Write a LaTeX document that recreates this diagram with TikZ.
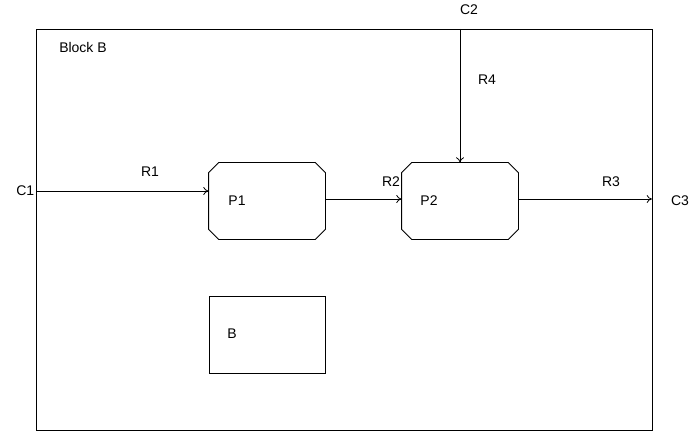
\documentclass[tikz,border=0pt]{standalone}
\usepackage{fontspec}
\setmainfont{Liberation Sans}
\usepackage{tikz}
\usetikzlibrary{arrows.meta,positioning,calc}

% chamfered outline round a named node
\newcommand{\octout}[1]{%
  \draw ($(#1.north west)+(10,0)$) -- ($(#1.north east)+(-10,0)$)
    -- ($(#1.north east)+(0,10)$) -- ($(#1.south east)+(0,-10)$)
    -- ($(#1.south east)+(-10,0)$) -- ($(#1.south west)+(10,0)$)
    -- ($(#1.south west)+(0,-10)$) -- ($(#1.north west)+(0,10)$) -- cycle;}

\begin{document}
\begin{tikzpicture}[
  x=0.75pt, y=-0.75pt,
  font=\fontsize{10.5}{12}\selectfont,
  line width=0.6pt,
  proc/.style={minimum width=87pt, minimum height=57pt, inner sep=0pt},
  box/.style={draw, minimum width=87pt, minimum height=57.75pt, inner sep=0pt},
  lbl/.style={inner sep=1pt},
  arr/.style={-{To[length=4pt,width=6pt]}}
]
\useasboundingbox (0,0) rectangle (692,431);

% outer block
\node[draw, minimum width=462pt, minimum height=300.75pt, inner sep=0pt] (blk) at (344,229.5) {};
\node[lbl] (blkname) at (83,47) {Block B};

% processes
\node[proc] (P1) at (267,201) {};
\octout{P1}
\node[lbl] (p1name) at (237,201) {P1};
\node[proc] (P2) at (460,201) {};
\octout{P2}
\node[lbl] (p2name) at (429,201) {P2};
\node[box] (B) at (267,334.5) {};
\node[lbl] (bname) at (232,334) {B};

% ports
\coordinate (c1) at (36,191);
\coordinate (c2) at (460,29);
\coordinate (c3) at (652,199);
\node[lbl, anchor=east] (C1) at (c1) {C1};
\node[lbl] (C2) at (469,10) {C2};
\node[lbl] (C3) at (680,201) {C3};

% flows
\draw[arr] (c1) -- (c1 -| P1.west);
\draw[arr] (P1.east |- c3) -- (P2.west |- c3);
\draw[arr] (P2.east |- c3) -- (c3);
\draw[arr] (c2) -- (P2.north);
\node[lbl] (R1) at (150,172) {R1};
\node[lbl] (R2) at (391,182) {R2};
\node[lbl] (R3) at (611,182) {R3};
\node[lbl] (R4) at (487,80) {R4};
\end{tikzpicture}
\end{document}
